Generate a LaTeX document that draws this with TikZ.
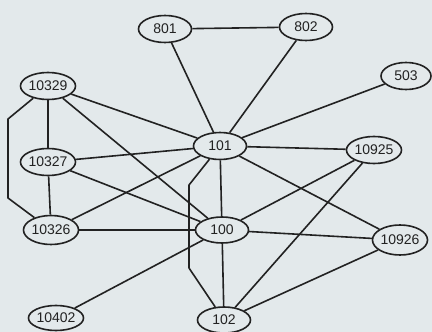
\documentclass[tikz,border=0pt]{standalone}
\usepackage{fontspec}
\setmainfont{Liberation Sans}
\usetikzlibrary{shapes.geometric}
\definecolor{paper}{HTML}{E3E9EB}
\definecolor{ink}{HTML}{222222}
\begin{document}
\begin{tikzpicture}[x=1pt,y=-1pt,
  vertex/.style={ellipse,draw=ink,line width=1.6pt,fill=paper,
    minimum width=53pt,minimum height=27pt,inner sep=0pt,
    font=\fontsize{14}{14}\selectfont,text=ink},
  link/.style={draw=ink,line width=1.6pt,line join=round}]
\fill[paper] (0,0) rectangle (432,332);
\useasboundingbox (0,0) rectangle (432,332);

% nodes
\node[vertex] (n801)   at (165,29)  {801};
\node[vertex] (n802)   at (306,27)  {802};
\node[vertex,minimum width=50pt] (n503) at (406,76) {503};
\node[vertex] (n10329) at (48,86)   {10329};
\node[vertex] (n10327) at (48,162)  {10327};
\node[vertex,minimum height=29pt] (n10326) at (51,230) {10326};
\node[vertex,minimum height=25pt] (n10402) at (56,318)  {10402};
\node[vertex] (n101)   at (220,146) {101};
\node[vertex,minimum height=26pt] (n100) at (222,230) {100};
\node[vertex,minimum height=26pt] (n102) at (224,320) {102};
\node[vertex,minimum width=51pt] (n10925) at (374,150) {10925};
\node[vertex,minimum width=55pt,minimum height=30pt] (n10926) at (400,240) {10926};

% bend points of the routed links
\coordinate (leftA) at (8,119);
\coordinate (leftB) at (8,198);
\coordinate (midA)  at (189,185);
\coordinate (midB)  at (189,268);

% links
\draw[link] (n801) -- (n802);
\draw[link] (n801) -- (n101);
\draw[link] (n802) -- (n101);
\draw[link] (n503) -- (n101);
\draw[link] (n10329) -- (n10327);
\draw[link] (n10329) -- (n101);
\draw[link] (n10329) -- (n100);
\draw[link] (n10329) -- (leftA) -- (leftB) -- (n10326);
\draw[link] (n10327) -- (n101);
\draw[link] (n10327) -- (n100);
\draw[link] (n10327) -- (n10326);
\draw[link] (n10326) -- (n101);
\draw[link] (n10326) -- (n100);
\draw[link] (n10402) -- (n100);
\draw[link] (n101) -- (n100);
\draw[link] (n101) -- (midA) -- (midB) -- (n102);
\draw[link] (n101) -- (n10925);
\draw[link] (n101) -- (n10926);
\draw[link] (n100) -- (n10925);
\draw[link] (n100) -- (n10926);
\draw[link] (n100) -- (n102);
\draw[link] (n10925) -- (n102);
\draw[link] (n10926) -- (n102);
\end{tikzpicture}
\end{document}
